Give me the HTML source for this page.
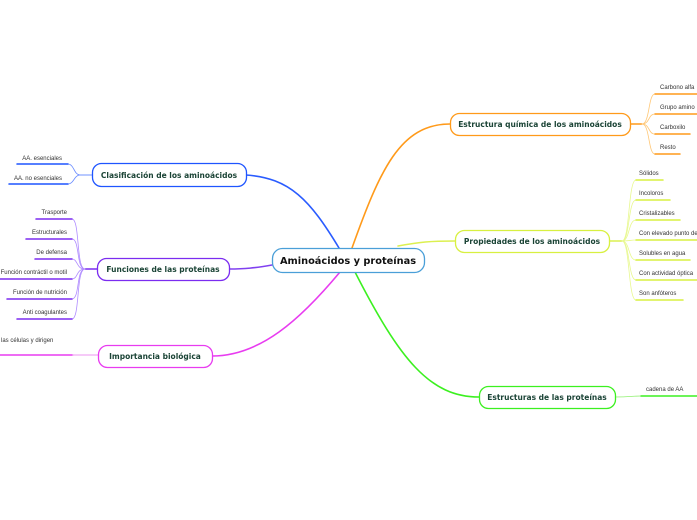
<!DOCTYPE html>
<html><head><meta charset="utf-8"><style>
html,body{margin:0;padding:0;background:#fff;width:697px;height:520px;overflow:hidden}
svg{display:block}
.n{font-family:"DejaVu Sans","Liberation Sans",sans-serif;font-weight:bold;fill:#1b4436;font-size:7.5px}
.l{font-family:"Liberation Sans",sans-serif;fill:#333;font-size:6px}
</style></head><body>
<svg width="697" height="520" viewBox="0 0 697 520" xmlns="http://www.w3.org/2000/svg">
<g fill="none" stroke-linecap="round">
<path d="M339,248 C310,200 290,178 246,175" stroke="#2a5cff" stroke-width="1.6"/>
<path d="M352,248 C380,170 400,124 450,124" stroke="#ff9a1a" stroke-width="1.6"/>
<path d="M398,246 C420,242 430,241 455,241" stroke="#dcf050" stroke-width="1.6"/>
<path d="M272,265 C255,268 245,269 229,269" stroke="#8040f0" stroke-width="1.6"/>
<path d="M340,272 C300,320 260,356 212,356" stroke="#e83cf0" stroke-width="1.6"/>
<path d="M355,272 C400,360 430,397 479,397" stroke="#3cf020" stroke-width="1.6"/>
<path d="M92,175 H80 C74,175 74,164 68,164" stroke="#6a8cff" stroke-width="0.8"/>
<path d="M92,175 H80 C74,175 74,184 68,184" stroke="#6a8cff" stroke-width="0.8"/>
<path d="M17,164 H68 M9,184 H68" stroke="#1f55ff" stroke-width="1.5"/>
<path d="M97,269 H85" stroke="#7b2cf0" stroke-width="1.5"/>
<g stroke="#b08cff" stroke-width="0.8">
<path d="M85,269 C76,269 80,219 72,219"/><path d="M85,269 C76,269 80,239 72,239"/>
<path d="M85,269 C76,269 78,259 72,259"/><path d="M85,269 C76,269 78,279 72,279"/>
<path d="M85,269 C76,269 80,299 72,299"/><path d="M85,269 C76,269 80,319 72,319"/>
</g>
<path d="M36,219 H72 M26,239 H72 M35,259 H72 M0,279 H72 M7,299 H72 M17,319 H72" stroke="#7b2cf0" stroke-width="1.5"/>
<path d="M0,355 H73" stroke="#e83cf0" stroke-width="1.5"/>
<path d="M73,355 H98" stroke="#f4b8f6" stroke-width="1.5"/>
<path d="M630,124 H642" stroke="#ff9a1a" stroke-width="1.5"/>
<g stroke="#ffc878" stroke-width="0.8">
<path d="M642,124 C650,124 648,94 655,94"/><path d="M642,124 C650,124 648,114 655,114"/>
<path d="M642,124 C650,124 648,134 655,134"/><path d="M642,124 C650,124 648,154 655,154"/>
</g>
<path d="M655,94 H697 M655,114 H697 M655,134 H690 M655,154 H680" stroke="#ff9a1a" stroke-width="1.5"/>
<path d="M609,241 H622" stroke="#dcf050" stroke-width="1.5"/>
<g stroke="#e8f890" stroke-width="0.8">
<path d="M622,241 C630,241 628,180 636,180"/><path d="M622,241 C630,241 628,200 636,200"/>
<path d="M622,241 C630,241 628,220 636,220"/><path d="M622,241 C630,241 630,240 636,240"/>
<path d="M622,241 C630,241 628,260 636,260"/><path d="M622,241 C630,241 628,280 636,280"/>
<path d="M622,241 C630,241 628,300 636,300"/>
</g>
<path d="M636,180 H663 M636,200 H670 M636,220 H680 M636,240 H697 M636,260 H690 M636,280 H697 M636,300 H683" stroke="#d8f040" stroke-width="1.5"/>
<path d="M615,397 C630,397 632,396 641,396" stroke="#90f070" stroke-width="0.8"/>
<path d="M641,396 H697" stroke="#3cf020" stroke-width="1.5"/>
</g>
<g stroke-width="1.3" fill="#fff">
<rect x="272.5" y="248.5" width="152" height="24" rx="10" stroke="#4a9fd8"/>
<rect x="92.5" y="163.5" width="154" height="23" rx="9" stroke="#1f55ff"/>
<rect x="97.5" y="258.5" width="132" height="22" rx="9" stroke="#7b2cf0"/>
<rect x="98.5" y="345.5" width="114" height="22" rx="9" stroke="#e83cf0"/>
<rect x="450.5" y="113.5" width="180" height="22" rx="9" stroke="#ff9a1a"/>
<rect x="455.5" y="230.5" width="154" height="22" rx="9" stroke="#d8f040"/>
<rect x="479.5" y="386.5" width="136" height="22" rx="9" stroke="#3cf020"/>
</g>
<g class="n" text-anchor="middle">
<text x="348" y="264" style="font-size:9.8px;fill:#111">Aminoácidos y proteínas</text>
<text x="169" y="178">Clasificación de los aminoácidos</text>
<text x="163" y="272">Funciones de las proteínas</text>
<text x="155" y="359">Importancia biológica</text>
<text x="540" y="127">Estructura química de los aminoácidos</text>
<text x="532" y="244">Propiedades de los aminoácidos</text>
<text x="547" y="400">Estructuras de las proteínas</text>
</g>
<g class="l">
<text x="62" y="160" text-anchor="end">AA. esenciales</text>
<text x="62" y="180" text-anchor="end">AA. no esenciales</text>
<text x="67" y="214" text-anchor="end">Trasporte</text>
<text x="67" y="234" text-anchor="end">Estructurales</text>
<text x="67" y="254" text-anchor="end">De defensa</text>
<text x="67" y="274" text-anchor="end">Función contráctil o motil</text>
<text x="67" y="294" text-anchor="end">Función de nutrición</text>
<text x="67" y="314" text-anchor="end">Anti coagulantes</text>
<text x="-4" y="342">e las células y dirigen</text>
<text x="660" y="89">Carbono alfa</text>
<text x="660" y="109">Grupo amino</text>
<text x="660" y="129">Carboxilo</text>
<text x="660" y="149">Resto</text>
<text x="639" y="175">Sólidos</text>
<text x="639" y="195">Incoloros</text>
<text x="639" y="215">Cristalizables</text>
<text x="639" y="235">Con elevado punto de</text>
<text x="639" y="255">Solubles en agua</text>
<text x="639" y="275">Con actividad óptica</text>
<text x="639" y="295">Son anfóteros</text>
<text x="646" y="391">cadena de AA</text>
</g>
</svg>
</body></html>
